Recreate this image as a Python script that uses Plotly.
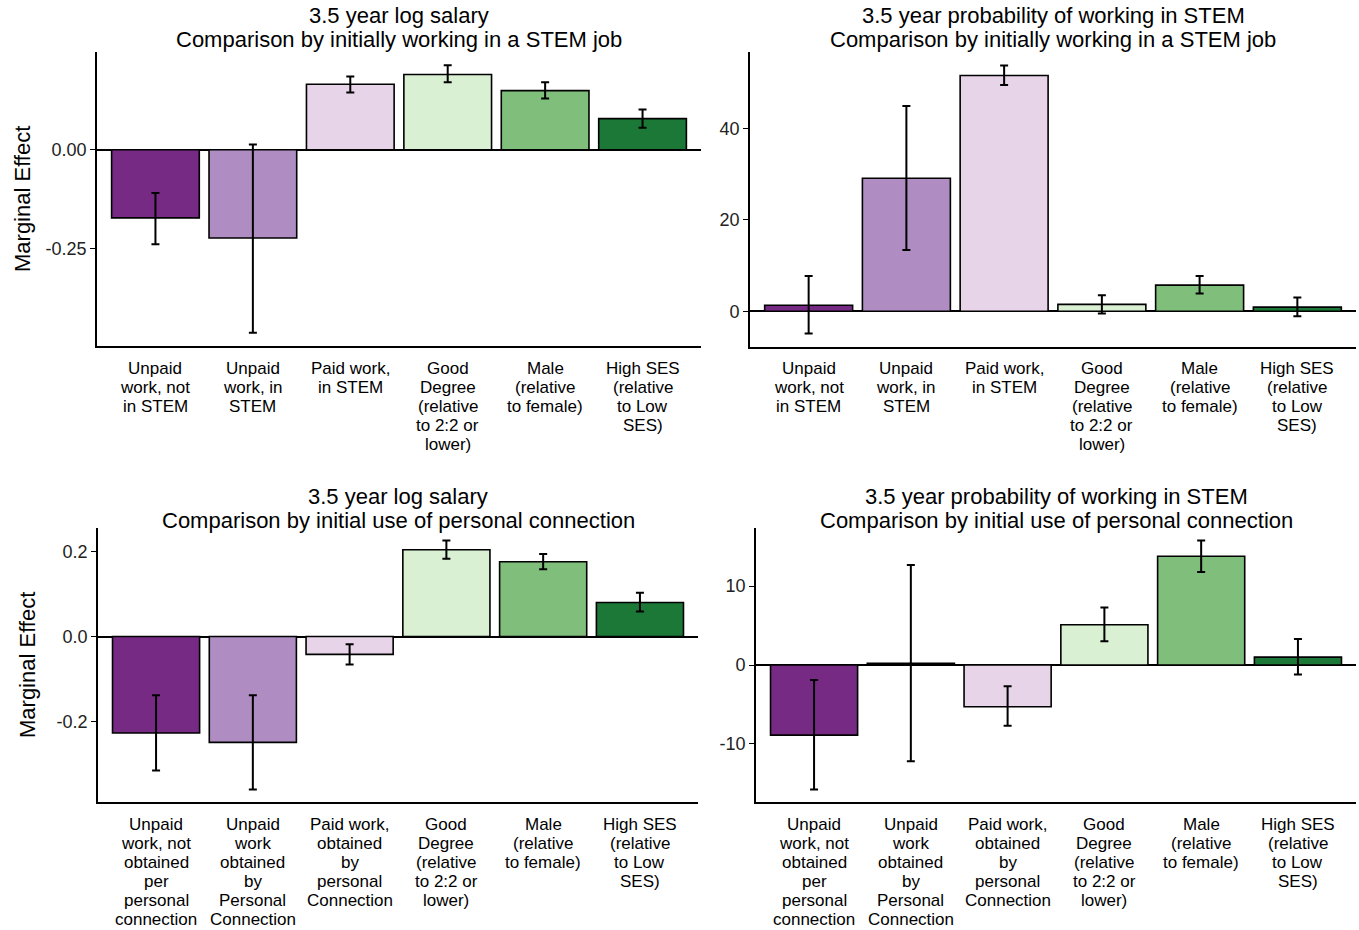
import plotly.graph_objects as go

# Category labels (line breaks as in the axis text)
cats_stem = [
    "Unpaid\nwork, not\nin STEM",
    "Unpaid\nwork, in\nSTEM",
    "Paid work,\nin STEM",
    "Good\nDegree\n(relative\nto 2:2 or\nlower)",
    "Male\n(relative\nto female)",
    "High SES\n(relative\nto Low\nSES)",
]
cats_conn = [
    "Unpaid\nwork, not\nobtained\nper\npersonal\nconnection",
    "Unpaid\nwork\nobtained\nby\nPersonal\nConnection",
    "Paid work,\nobtained\nby\npersonal\nConnection",
    "Good\nDegree\n(relative\nto 2:2 or\nlower)",
    "Male\n(relative\nto female)",
    "High SES\n(relative\nto Low\nSES)",
]

bar_colors = ["#762A83", "#AF8DC3", "#E7D4E8", "#D9F0D3", "#7FBF7B", "#1B7837"]

# Panel A: log salary, by initially working in a STEM job
salary_stem_est = [-0.173, -0.224, 0.166, 0.191, 0.150, 0.079]
salary_stem_lo = [-0.240, -0.464, 0.145, 0.171, 0.130, 0.056]
salary_stem_hi = [-0.110, 0.013, 0.186, 0.214, 0.171, 0.102]

# Panel B: probability of working in STEM, by initially working in a STEM job
prob_stem_est = [1.3, 29.1, 51.6, 1.5, 5.7, 0.9]
prob_stem_lo = [-4.9, 13.4, 49.5, -0.5, 3.9, -1.1]
prob_stem_hi = [7.7, 44.9, 53.8, 3.5, 7.7, 3.0]

# Panel C: log salary, by initial use of personal connection
salary_conn_est = [-0.227, -0.249, -0.042, 0.204, 0.176, 0.080]
salary_conn_lo = [-0.315, -0.360, -0.066, 0.183, 0.158, 0.059]
salary_conn_hi = [-0.138, -0.138, -0.018, 0.226, 0.194, 0.103]

# Panel D: probability of working in STEM, by initial use of personal connection
prob_conn_est = [-8.9, 0.2, -5.3, 5.1, 13.8, 1.0]
prob_conn_lo = [-15.8, -12.2, -7.7, 3.0, 11.8, -1.2]
prob_conn_hi = [-1.9, 12.7, -2.7, 7.3, 15.8, 3.3]

W, H = 1359, 930
FONT = "Liberation Sans, Arial, sans-serif"

panels = [
    dict(title=("3.5 year log salary", "Comparison by initially working in a STEM job"),
         cats=cats_stem, est=salary_stem_est, lo=salary_stem_lo, hi=salary_stem_hi,
         xpx=(97, 701), ypx=(52, 346), ticks=[-0.25, 0.0], ticktext=["-0.25", "0.00"],
         ylabel=True, ylab_x=22, title_shift=36),
    dict(title=("3.5 year probability of working in STEM", "Comparison by initially working in a STEM job"),
         cats=cats_stem, est=prob_stem_est, lo=prob_stem_lo, hi=prob_stem_hi,
         xpx=(750, 1356), ypx=(52, 347), ticks=[0, 20, 40], ticktext=["0", "20", "40"],
         ylabel=False, title_shift=36),
    dict(title=("3.5 year log salary", "Comparison by initial use of personal connection"),
         cats=cats_conn, est=salary_conn_est, lo=salary_conn_lo, hi=salary_conn_hi,
         xpx=(98, 698), ypx=(528, 802), ticks=[-0.2, 0.0, 0.2], ticktext=["-0.2", "0.0", "0.2"],
         ylabel=True, ylab_x=27, title_shift=32),
    dict(title=("3.5 year probability of working in STEM", "Comparison by initial use of personal connection"),
         cats=cats_conn, est=prob_conn_est, lo=prob_conn_lo, hi=prob_conn_hi,
         xpx=(756, 1356), ypx=(528, 802), ticks=[-10, 0, 10], ticktext=["-10", "0", "10"],
         ylabel=False, title_shift=32),
]

TITLE_LINE_GAP = 24

fig = go.Figure()
annotations = []

for k, p in enumerate(panels, start=1):
    xa = "x" if k == 1 else f"x{k}"
    ya = "y" if k == 1 else f"y{k}"
    n = len(p["cats"])
    idx = list(range(n))
    err_up = [h - e for h, e in zip(p["hi"], p["est"])]
    err_dn = [e - l for e, l in zip(p["est"], p["lo"])]

    fig.add_trace(go.Bar(
        x=idx, y=p["est"], xaxis=xa, yaxis=ya, width=0.9,
        marker=dict(color=bar_colors, line=dict(color="black", width=1.6)),
        error_y=dict(type="data", symmetric=False, array=err_up, arrayminus=err_dn,
                     color="black", thickness=2, width=4),
        showlegend=False, hoverinfo="skip",
    ))

    # ggplot-style 5% expansion of the value range
    vmin = min(min(p["lo"]), 0)
    vmax = max(max(p["hi"]), 0)
    pad = 0.05 * (vmax - vmin)
    yr = [vmin - pad, vmax + pad]

    xd = [p["xpx"][0] / W, p["xpx"][1] / W]
    yd = [1 - p["ypx"][1] / H, 1 - p["ypx"][0] / H]

    axkey_x = "xaxis" if k == 1 else f"xaxis{k}"
    axkey_y = "yaxis" if k == 1 else f"yaxis{k}"
    fig.layout[axkey_x] = dict(
        domain=xd, anchor=ya, range=[-0.6, n - 0.4], showgrid=False, zeroline=False,
        showline=True, linecolor="black", linewidth=1.6, ticks="", showticklabels=False,
        fixedrange=True,
    )
    fig.layout[axkey_y] = dict(
        domain=yd, anchor=xa, range=yr, showgrid=False,
        zeroline=True, zerolinecolor="black", zerolinewidth=1.6,
        showline=True, linecolor="black", linewidth=1.6,
        ticks="outside", ticklen=5, tickwidth=1.4, tickcolor="black",
        tickvals=p["ticks"], ticktext=p["ticktext"],
        tickfont=dict(family=FONT, size=18, color="#222222"),
        automargin=False, fixedrange=True,
    )

    # Category labels, one annotation per line for tight line spacing
    for i, lab in enumerate(p["cats"]):
        for j, line in enumerate(lab.split("\n")):
            annotations.append(dict(
                x=i, y=yd[0], xref=xa, yref="paper", text=line, showarrow=False,
                xanchor="center", yanchor="middle", yshift=-(22 + 19 * j),
                font=dict(family=FONT, size=17, color="#000000"),
            ))

    # Two-line panel title centred over the plot area
    xc = (xd[0] + xd[1]) / 2
    for j, line in enumerate(p["title"]):
        annotations.append(dict(
            x=xc, y=yd[1], xref="paper", yref="paper", text=line, showarrow=False,
            xanchor="center", yanchor="middle",
            yshift=(p["title_shift"] - TITLE_LINE_GAP * j),
            font=dict(family=FONT, size=22, color="#000000"),
        ))

    if p["ylabel"]:
        annotations.append(dict(
            x=p["ylab_x"] / W, y=(yd[0] + yd[1]) / 2, xref="paper", yref="paper",
            text="Marginal Effect", showarrow=False, textangle=-90,
            xanchor="center", yanchor="middle",
            font=dict(family=FONT, size=22, color="#000000"),
        ))

fig.update_layout(
    width=W, height=H, margin=dict(l=0, r=0, t=0, b=0),
    paper_bgcolor="white", plot_bgcolor="white",
    annotations=annotations, bargap=0.1,
)

fig.write_html("out.html")
